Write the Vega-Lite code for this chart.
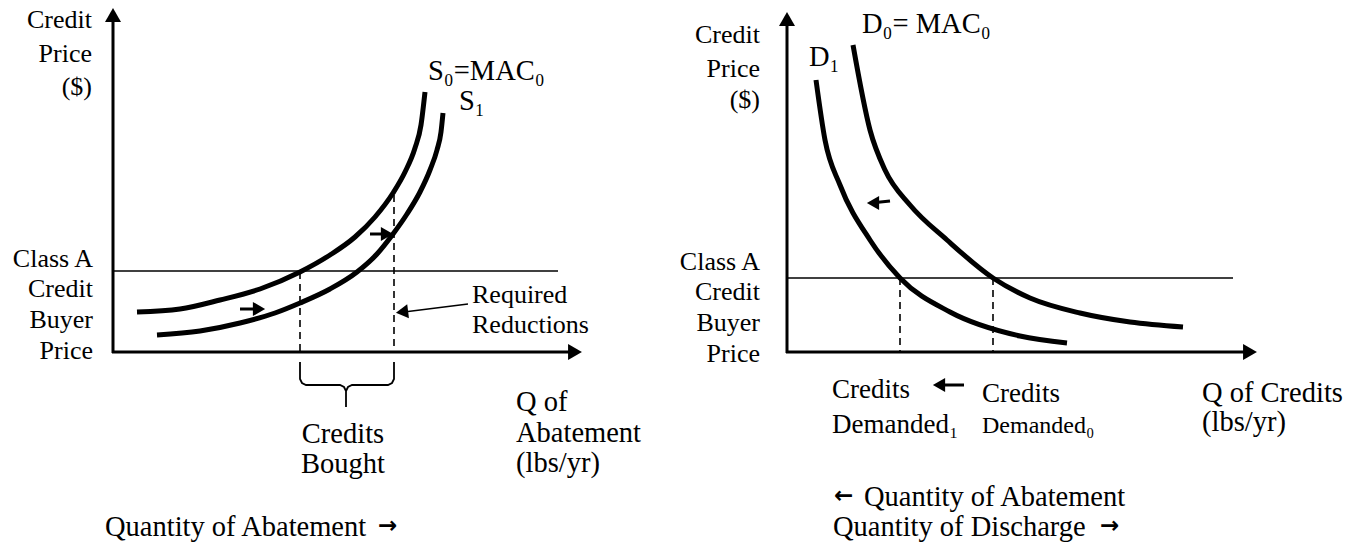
{
  "$schema": "https://vega.github.io/schema/vega-lite/v6.json",
  "width": 1364,
  "height": 548,
  "autosize": {"type": "fit", "contains": "padding"},
  "padding": 0,
  "background": "white",
  "config": {"view": {"stroke": null}},
  "datasets": {
    "rules": [
      {"kind": "axis", "x": 113, "y": 20, "x2": 113, "y2": 353},
      {"kind": "axis", "x": 112, "y": 352, "x2": 572, "y2": 352},
      {"kind": "axis", "x": 787, "y": 24, "x2": 787, "y2": 353},
      {"kind": "axis", "x": 786, "y": 352, "x2": 1247, "y2": 352},
      {"kind": "price", "x": 113, "y": 271, "x2": 558, "y2": 271},
      {"kind": "price", "x": 787, "y": 278, "x2": 1233, "y2": 278},
      {"kind": "dash", "x": 300, "y": 272, "x2": 300, "y2": 352},
      {"kind": "dash", "x": 394, "y": 195, "x2": 394, "y2": 352},
      {"kind": "dash", "x": 900, "y": 278, "x2": 900, "y2": 352},
      {"kind": "dash", "x": 993, "y": 278, "x2": 993, "y2": 352},
      {"kind": "shaft", "x": 240, "y": 309, "x2": 256, "y2": 309},
      {"kind": "shaft", "x": 370, "y": 234, "x2": 384, "y2": 234},
      {"kind": "shaft", "x": 871, "y": 203, "x2": 890, "y2": 201},
      {"kind": "shaft", "x": 937, "y": 385, "x2": 964, "y2": 385},
      {"kind": "thin", "x": 468, "y": 304, "x2": 404, "y2": 312}
    ],
    "curves": [
      {"curve": "S0", "x": 137, "y": 312},
      {"curve": "S0", "x": 180, "y": 309},
      {"curve": "S0", "x": 220, "y": 300},
      {"curve": "S0", "x": 260, "y": 289},
      {"curve": "S0", "x": 300, "y": 272},
      {"curve": "S0", "x": 330, "y": 255},
      {"curve": "S0", "x": 355, "y": 237},
      {"curve": "S0", "x": 375, "y": 217},
      {"curve": "S0", "x": 393, "y": 193},
      {"curve": "S0", "x": 405, "y": 172},
      {"curve": "S0", "x": 415, "y": 148},
      {"curve": "S0", "x": 421, "y": 125},
      {"curve": "S0", "x": 425, "y": 92},
      {"curve": "S1", "x": 157, "y": 335},
      {"curve": "S1", "x": 200, "y": 331},
      {"curve": "S1", "x": 240, "y": 323},
      {"curve": "S1", "x": 275, "y": 313},
      {"curve": "S1", "x": 300, "y": 303},
      {"curve": "S1", "x": 330, "y": 289},
      {"curve": "S1", "x": 357, "y": 272},
      {"curve": "S1", "x": 377, "y": 254},
      {"curve": "S1", "x": 393, "y": 234},
      {"curve": "S1", "x": 407, "y": 214},
      {"curve": "S1", "x": 420, "y": 192},
      {"curve": "S1", "x": 430, "y": 170},
      {"curve": "S1", "x": 437, "y": 150},
      {"curve": "S1", "x": 441, "y": 132},
      {"curve": "S1", "x": 443, "y": 113},
      {"curve": "D1", "x": 816, "y": 80},
      {"curve": "D1", "x": 825, "y": 140},
      {"curve": "D1", "x": 840, "y": 185},
      {"curve": "D1", "x": 870, "y": 240},
      {"curve": "D1", "x": 900, "y": 278},
      {"curve": "D1", "x": 950, "y": 312},
      {"curve": "D1", "x": 1020, "y": 336},
      {"curve": "D1", "x": 1067, "y": 343},
      {"curve": "D0", "x": 853, "y": 45},
      {"curve": "D0", "x": 870, "y": 130},
      {"curve": "D0", "x": 885, "y": 170},
      {"curve": "D0", "x": 910, "y": 205},
      {"curve": "D0", "x": 947, "y": 240},
      {"curve": "D0", "x": 993, "y": 278},
      {"curve": "D0", "x": 1030, "y": 298},
      {"curve": "D0", "x": 1080, "y": 313},
      {"curve": "D0", "x": 1130, "y": 322},
      {"curve": "D0", "x": 1183, "y": 327}
    ],
    "brace": [
      {"part": "a", "i": 1, "x": 300, "y": 362},
      {"part": "a", "i": 2, "x": 300, "y": 379},
      {"part": "a", "i": 3, "x": 302, "y": 383},
      {"part": "a", "i": 4, "x": 306, "y": 385},
      {"part": "a", "i": 5, "x": 340, "y": 385},
      {"part": "a", "i": 6, "x": 344, "y": 387},
      {"part": "a", "i": 7, "x": 346, "y": 391},
      {"part": "a", "i": 8, "x": 346, "y": 407},
      {"part": "b", "i": 1, "x": 346, "y": 391},
      {"part": "b", "i": 2, "x": 348, "y": 387},
      {"part": "b", "i": 3, "x": 352, "y": 385},
      {"part": "b", "i": 4, "x": 388, "y": 385},
      {"part": "b", "i": 5, "x": 392, "y": 383},
      {"part": "b", "i": 6, "x": 394, "y": 379},
      {"part": "b", "i": 7, "x": 394, "y": 362}
    ],
    "heads": [
      {"kind": "axis", "dir": "up", "tilt": 0, "x": 113, "y": 15},
      {"kind": "axis", "dir": "right", "tilt": 0, "x": 575, "y": 352},
      {"kind": "axis", "dir": "up", "tilt": 0, "x": 787, "y": 19},
      {"kind": "axis", "dir": "right", "tilt": 0, "x": 1250, "y": 352},
      {"kind": "marker", "dir": "right", "tilt": 0, "x": 259, "y": 309},
      {"kind": "marker", "dir": "right", "tilt": 0, "x": 387, "y": 234},
      {"kind": "marker", "dir": "left", "tilt": 353, "x": 402, "y": 312},
      {"kind": "marker", "dir": "left", "tilt": 0, "x": 873, "y": 203},
      {"kind": "marker", "dir": "left", "tilt": 0, "x": 939, "y": 385}
    ],
    "labels": [
      {"role": "yname", "x": 92, "y": 28, "text": "Credit"},
      {"role": "yname", "x": 92, "y": 62, "text": "Price"},
      {"role": "yname", "x": 92, "y": 95, "text": "($)"},
      {"role": "yname", "x": 93, "y": 267, "text": "Class A"},
      {"role": "yname", "x": 93, "y": 297, "text": "Credit"},
      {"role": "yname", "x": 93, "y": 328, "text": "Buyer"},
      {"role": "yname", "x": 93, "y": 359, "text": "Price"},
      {"role": "curve", "x": 428, "y": 80, "text": "S₀=MAC₀"},
      {"role": "curve", "x": 459, "y": 110, "text": "S₁"},
      {"role": "note", "x": 472, "y": 303, "text": "Required"},
      {"role": "note", "x": 472, "y": 333, "text": "Reductions"},
      {"role": "curve", "x": 516, "y": 411, "text": "Q of"},
      {"role": "curve", "x": 516, "y": 442, "text": "Abatement"},
      {"role": "curve", "x": 516, "y": 472, "text": "(lbs/yr)"},
      {"role": "curve", "x": 105, "y": 536, "text": "Quantity of Abatement"},
      {"role": "glyph", "x": 378, "y": 533, "text": "→"},
      {"role": "center", "x": 343, "y": 443, "text": "Credits"},
      {"role": "center", "x": 343, "y": 473, "text": "Bought"},
      {"role": "yname", "x": 760, "y": 43, "text": "Credit"},
      {"role": "yname", "x": 760, "y": 77, "text": "Price"},
      {"role": "yname", "x": 760, "y": 108, "text": "($)"},
      {"role": "yname", "x": 760, "y": 270, "text": "Class A"},
      {"role": "yname", "x": 760, "y": 300, "text": "Credit"},
      {"role": "yname", "x": 760, "y": 331, "text": "Buyer"},
      {"role": "yname", "x": 760, "y": 362, "text": "Price"},
      {"role": "curve", "x": 862, "y": 33, "text": "D₀= MAC₀"},
      {"role": "curve", "x": 809, "y": 66, "text": "D₁"},
      {"role": "demand", "x": 832, "y": 398, "text": "Credits"},
      {"role": "demand", "x": 832, "y": 433, "text": "Demanded₁"},
      {"role": "demand", "x": 982, "y": 402, "text": "Credits"},
      {"role": "small", "x": 982, "y": 433, "text": "Demanded₀"},
      {"role": "curve", "x": 1202, "y": 402, "text": "Q of Credits"},
      {"role": "curve", "x": 1202, "y": 431, "text": "(lbs/yr)"},
      {"role": "glyph", "x": 834, "y": 503, "text": "←"},
      {"role": "curve", "x": 864, "y": 506, "text": "Quantity of Abatement"},
      {"role": "curve", "x": 833, "y": 536, "text": "Quantity of Discharge"},
      {"role": "glyph", "x": 1100, "y": 533, "text": "→"}
    ]
  },
  "encoding": {
    "x": {"field": "x", "type": "quantitative", "scale": {"domain": [0, 1364], "nice": false, "zero": false}, "axis": null},
    "y": {"field": "y", "type": "quantitative", "scale": {"domain": [0, 548], "nice": false, "zero": false, "reverse": true}, "axis": null}
  },
  "layer": [
    {
      "data": {"name": "rules"},
      "transform": [{"filter": "datum.kind === 'axis'"}],
      "mark": {"type": "rule", "color": "black", "strokeWidth": 3},
      "encoding": {"x2": {"field": "x2"}, "y2": {"field": "y2"}}
    },
    {
      "data": {"name": "rules"},
      "transform": [{"filter": "datum.kind === 'price'"}],
      "mark": {"type": "rule", "color": "black", "strokeWidth": 1.5},
      "encoding": {"x2": {"field": "x2"}, "y2": {"field": "y2"}}
    },
    {
      "data": {"name": "rules"},
      "transform": [{"filter": "datum.kind === 'dash'"}],
      "mark": {"type": "rule", "color": "black", "strokeWidth": 1.6, "strokeDash": [7, 5]},
      "encoding": {"x2": {"field": "x2"}, "y2": {"field": "y2"}}
    },
    {
      "data": {"name": "rules"},
      "transform": [{"filter": "datum.kind === 'shaft'"}],
      "mark": {"type": "rule", "color": "black", "strokeWidth": 3},
      "encoding": {"x2": {"field": "x2"}, "y2": {"field": "y2"}}
    },
    {
      "data": {"name": "rules"},
      "transform": [{"filter": "datum.kind === 'thin'"}],
      "mark": {"type": "rule", "color": "black", "strokeWidth": 1.6},
      "encoding": {"x2": {"field": "x2"}, "y2": {"field": "y2"}}
    },
    {
      "data": {"name": "curves"},
      "mark": {"type": "line", "color": "black", "strokeWidth": 5, "interpolate": "monotone", "strokeCap": "butt"},
      "encoding": {"detail": {"field": "curve", "type": "nominal"}}
    },
    {
      "data": {"name": "brace"},
      "mark": {"type": "line", "color": "black", "strokeWidth": 1.8, "interpolate": "linear"},
      "encoding": {"detail": {"field": "part", "type": "nominal"}, "order": {"field": "i", "type": "quantitative"}}
    },
    {
      "data": {"name": "heads"},
      "transform": [{"filter": "datum.kind === 'axis'"}],
      "mark": {"type": "point", "filled": true, "color": "black", "opacity": 1, "size": 256, "strokeWidth": 0},
      "encoding": {
        "shape": {"field": "dir", "type": "nominal", "scale": {"domain": ["up", "right", "left"], "range": ["triangle-up", "triangle-right", "triangle-left"]}, "legend": null}
      }
    },
    {
      "data": {"name": "heads"},
      "transform": [{"filter": "datum.kind === 'marker'"}],
      "mark": {"type": "point", "filled": true, "color": "black", "opacity": 1, "size": 200, "strokeWidth": 0},
      "encoding": {
        "shape": {"field": "dir", "type": "nominal", "scale": {"domain": ["up", "right", "left"], "range": ["triangle-up", "triangle-right", "triangle-left"]}, "legend": null},
        "angle": {"field": "tilt", "type": "quantitative", "scale": {"domain": [0, 360], "range": [0, 360]}}
      }
    },
    {
      "data": {"name": "labels"},
      "transform": [{"filter": "datum.role === 'yname'"}],
      "mark": {"type": "text", "align": "right", "baseline": "alphabetic", "font": "Liberation Serif", "fontSize": 26, "color": "black"},
      "encoding": {"text": {"field": "text"}}
    },
    {
      "data": {"name": "labels"},
      "transform": [{"filter": "datum.role === 'note'"}],
      "mark": {"type": "text", "align": "left", "baseline": "alphabetic", "font": "Liberation Serif", "fontSize": 26, "color": "black"},
      "encoding": {"text": {"field": "text"}}
    },
    {
      "data": {"name": "labels"},
      "transform": [{"filter": "datum.role === 'curve'"}],
      "mark": {"type": "text", "align": "left", "baseline": "alphabetic", "font": "Liberation Serif", "fontSize": 28.5, "color": "black"},
      "encoding": {"text": {"field": "text"}}
    },
    {
      "data": {"name": "labels"},
      "transform": [{"filter": "datum.role === 'center'"}],
      "mark": {"type": "text", "align": "center", "baseline": "alphabetic", "font": "Liberation Serif", "fontSize": 28.5, "color": "black"},
      "encoding": {"text": {"field": "text"}}
    },
    {
      "data": {"name": "labels"},
      "transform": [{"filter": "datum.role === 'demand'"}],
      "mark": {"type": "text", "align": "left", "baseline": "alphabetic", "font": "Liberation Serif", "fontSize": 27, "color": "black"},
      "encoding": {"text": {"field": "text"}}
    },
    {
      "data": {"name": "labels"},
      "transform": [{"filter": "datum.role === 'small'"}],
      "mark": {"type": "text", "align": "left", "baseline": "alphabetic", "font": "Liberation Serif", "fontSize": 24, "color": "black"},
      "encoding": {"text": {"field": "text"}}
    },
    {
      "data": {"name": "labels"},
      "transform": [{"filter": "datum.role === 'glyph'"}],
      "mark": {"type": "text", "align": "left", "baseline": "alphabetic", "font": "DejaVu Sans", "fontSize": 23, "fontWeight": "bold", "color": "black"},
      "encoding": {"text": {"field": "text"}}
    }
  ]
}
